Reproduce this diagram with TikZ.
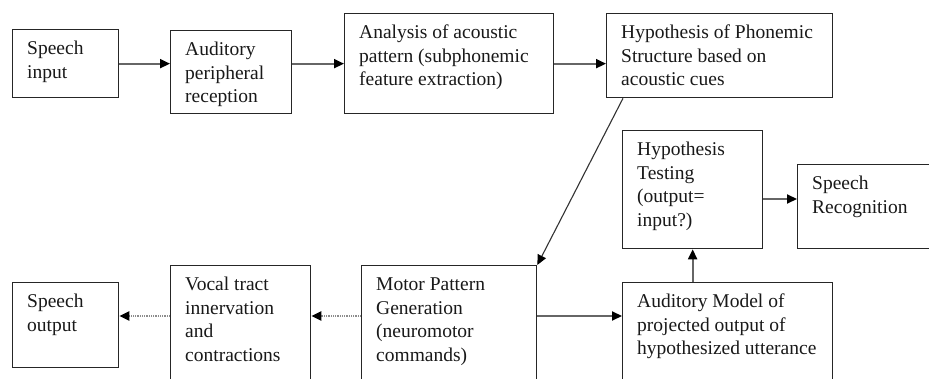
\documentclass[tikz,border=0pt]{standalone}
\usepackage{fontspec}
\setmainfont{Liberation Serif}
\usetikzlibrary{arrows.meta,calc}
\tikzset{
  box/.style={draw=black!85, line width=1.3pt, fill=white, anchor=north west, inner sep=0pt},
  txt/.style={anchor=north west, inner sep=0pt, align=left, text=black!90,
    font={\fontsize{19.5}{23.5}\selectfont}},
  headtip/.style={-{Triangle[length=10pt,width=9pt,color=black]}},
  flow/.style={draw=black!60, line width=2pt, headtip},
  back/.style={draw=black!45, line width=2.2pt, dash pattern=on 1pt off 0.8pt, headtip},
  diag/.style={draw=black!80, line width=1.1pt, headtip}
}
\newcommand\bx[6]{%
  \node[box, minimum width=#4pt, minimum height=#5pt] (#1) at (#2,#3) {};
  \node[txt] (#1-t) at ([xshift=15pt]#1.north west) {\rule{0pt}{25.5pt}#6};}
\begin{document}
\begin{tikzpicture}[x=1pt,y=-1pt]
\useasboundingbox (0,0) rectangle (929,379);
\clip (0,0) rectangle (929,379);
\fill[white] (0,0) rectangle (929,379);
\bx{sin}{12}{29}{106}{68}{Speech\\input}
\bx{aud}{170}{30}{121}{83}{Auditory\\peripheral\\reception}
\bx{ana}{344}{13}{209}{100}{Analysis of acoustic\\pattern (subphonemic\\feature extraction)}
\bx{hyp}{606}{13}{226}{84}{Hypothesis of Phonemic\\Structure based on\\acoustic cues}
\bx{tst}{622}{130}{140}{118}{Hypothesis\\Testing\\(output=\\input?)}
\bx{rec}{797}{164}{170}{84}{Speech\\Recognition}
\bx{aum}{622}{282}{210}{130}{Auditory Model of\\projected output of\\hypothesized utterance}
\bx{mot}{361}{265}{175}{150}{Motor Pattern\\Generation\\(neuromotor\\commands)}
\bx{voc}{170}{265}{140}{150}{Vocal tract\\innervation\\and\\contractions}
\bx{sout}{12}{282}{106}{85}{Speech\\output}
% forward arrows
\draw[flow] (sin.east) -- (sin.east -| aud.west);
\draw[flow] (aud.east |- sin.east) -- (ana.west |- sin.east);
\draw[flow] (ana.east) -- (ana.east -| hyp.west);
\draw[diag] ([xshift=17pt]hyp.south west) -- (mot.north east);
\draw[flow] ([yshift=-51pt]mot.north east) -- ([yshift=-51pt]mot.north east -| aum.west);
\draw[flow] (aum.north -| tst.south) -- (tst.south);
\draw[flow] ([yshift=-69pt]tst.north east) -- ([yshift=-69pt]tst.north east -| rec.west);
% dotted backward arrows
\draw[back] ([yshift=-51pt]mot.north west) -- ([yshift=-51pt]mot.north west -| voc.east);
\draw[back] ([yshift=-51pt]voc.north west) -- ([yshift=-51pt]voc.north west -| sout.east);
\end{tikzpicture}
\end{document}
